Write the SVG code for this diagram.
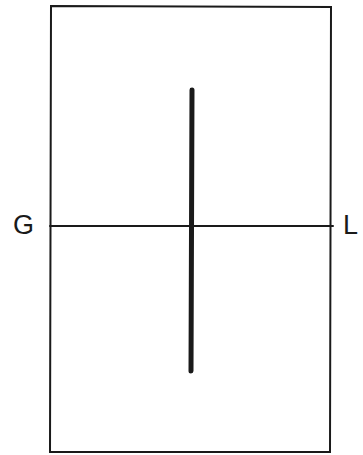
<svg xmlns="http://www.w3.org/2000/svg" width="363" height="455" viewBox="0 0 363 455">
<style>
.ln{stroke:#1a1a1a;stroke-width:2;fill:none;stroke-linecap:round}
.thick{stroke:#1a1a1a;stroke-width:5;stroke-linecap:round}
.lbl{font-family:"Liberation Sans",Arial,sans-serif;font-size:27px;fill:#1a1a1a}
</style>
<rect width="363" height="455" fill="#fff"/>
<g id="frame">
<path class="ln" d="M51,6 L331,7 L330,452 L50,452 Z"/>
</g>
<g id="connectors">
<line class="ln" x1="50" y1="226" x2="333" y2="226"/>
<line class="thick" x1="192" y1="90" x2="191" y2="371"/>
</g>
<g id="label-G"><text class="lbl" x="13" y="234">G</text></g>
<g id="label-L"><text class="lbl" x="343" y="234">L</text></g>
</svg>
